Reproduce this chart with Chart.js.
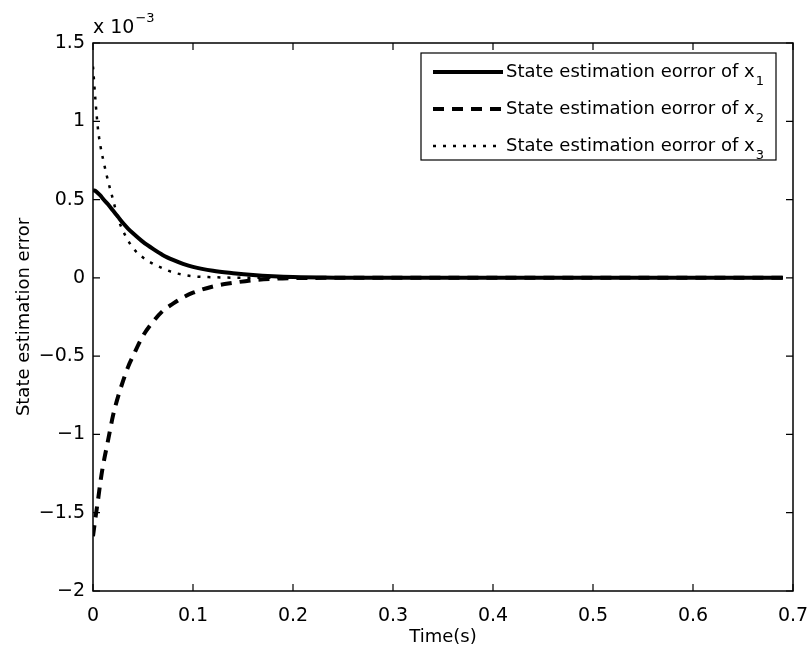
<!DOCTYPE html>
<html>
<head>
<meta charset="utf-8">
<script src="https://cdn.jsdelivr.net/npm/chart.js@4/dist/chart.umd.min.js"></script>
<style>
  html, body { margin: 0; padding: 0; background: #fff; }
  #wrap { width: 809px; height: 651px; }
</style>
</head>
<body>
<div id="wrap"><canvas id="chart1" width="809" height="651"></canvas></div>
<script>
// time (s) and errors in units of 1e-3
const times = [0, 0.0025, 0.005, 0.0075, 0.01, 0.015, 0.02, 0.025, 0.03, 0.035, 0.04, 0.05, 0.06, 0.07, 0.08, 0.09, 0.1, 0.12, 0.14, 0.16, 0.18, 0.2, 0.25, 0.3, 0.4, 0.5, 0.6, 0.69];
const errX1 = [0.56, 0.555, 0.54, 0.525, 0.505, 0.47, 0.43, 0.39, 0.35, 0.315, 0.285, 0.23, 0.185, 0.145, 0.115, 0.09, 0.07, 0.045, 0.03, 0.018, 0.01, 0.005, 0.001, 0, 0, 0, 0, 0];
const errX2 = [-1.65, -1.53, -1.42, -1.3, -1.2, -1.04, -0.88, -0.76, -0.66, -0.57, -0.5, -0.37, -0.28, -0.21, -0.165, -0.125, -0.095, -0.055, -0.032, -0.015, -0.006, -0.002, 0, 0, 0, 0, 0, 0];
const errX3 = [1.35, 1.13, 0.95, 0.84, 0.76, 0.62, 0.5, 0.38, 0.3, 0.24, 0.19, 0.13, 0.09, 0.06, 0.035, 0.02, 0.01, 0.004, 0.001, 0, 0, 0, 0, 0, 0, 0, 0, 0];
const seriesNames = ["State estimation eorror of x", "State estimation eorror of x", "State estimation eorror of x"];
const seriesSubs = ["1", "2", "3"];
const xTicks = [0, 0.1, 0.2, 0.3, 0.4, 0.5, 0.6, 0.7];
const yTicks = [-2, -1.5, -1, -0.5, 0, 0.5, 1, 1.5];

const FONT = "DejaVu Sans, Liberation Sans, Arial, sans-serif";

function pts(ys) { return times.map((t, i) => ({ x: t, y: ys[i] })); }

const frame = {
  id: "frame",
  afterDraw(chart) {
    const { ctx, chartArea: a, scales } = chart;
    ctx.save();
    ctx.strokeStyle = "#000";
    ctx.lineWidth = 1.5;
    ctx.strokeRect(a.left, a.top, a.right - a.left, a.bottom - a.top);
    ctx.lineWidth = 1.2;
    const tl = 7;
    xTicks.forEach(v => {
      const x = scales.x.getPixelForValue(v);
      ctx.beginPath();
      ctx.moveTo(x, a.bottom); ctx.lineTo(x, a.bottom - tl);
      ctx.moveTo(x, a.top); ctx.lineTo(x, a.top + tl);
      ctx.stroke();
    });
    yTicks.forEach(v => {
      const y = scales.y.getPixelForValue(v);
      ctx.beginPath();
      ctx.moveTo(a.left, y); ctx.lineTo(a.left + tl, y);
      ctx.moveTo(a.right, y); ctx.lineTo(a.right - tl, y);
      ctx.stroke();
    });

    // exponent label
    ctx.fillStyle = "#000";
    ctx.textBaseline = "alphabetic";
    ctx.textAlign = "left";
    ctx.font = "19px " + FONT;
    ctx.fillText("x 10", a.left, a.top - 10);
    const w = ctx.measureText("x 10").width;
    ctx.font = "13px " + FONT;
    ctx.fillText("\u22123", a.left + w + 1, a.top - 21);

    // legend
    const lx = 421, ly = 53, lw = 355, lh = 107;
    ctx.fillStyle = "#fff";
    ctx.fillRect(lx, ly, lw, lh);
    ctx.lineWidth = 1.2;
    ctx.strokeStyle = "#000";
    ctx.strokeRect(lx, ly, lw, lh);
    const rows = [72, 109, 146];
    chart.data.datasets.forEach((ds, i) => {
      const y = rows[i];
      ctx.beginPath();
      ctx.setLineDash(ds.borderDash || []);
      ctx.lineWidth = ds.borderWidth;
      ctx.strokeStyle = "#000";
      ctx.moveTo(433, y); ctx.lineTo(503, y);
      ctx.stroke();
      ctx.setLineDash([]);
      ctx.fillStyle = "#000";
      ctx.font = "18px " + FONT;
      ctx.textBaseline = "middle";
      ctx.fillText(seriesNames[i], 506, y);
      const tw = ctx.measureText(seriesNames[i]).width;
      ctx.font = "13px " + FONT;
      ctx.fillText(seriesSubs[i], 506 + tw + 1, y + 10);
    });
    ctx.restore();
  }
};

new Chart(document.getElementById("chart1"), {
  type: "line",
  data: {
    datasets: [
      { label: "x1", data: pts(errX1), borderColor: "#000", borderWidth: 4, pointRadius: 0, cubicInterpolationMode: "monotone" },
      { label: "x2", data: pts(errX2), borderColor: "#000", borderWidth: 4, borderDash: [11, 8], pointRadius: 0, cubicInterpolationMode: "monotone" },
      { label: "x3", data: pts(errX3), borderColor: "#000", borderWidth: 2.5, borderDash: [3, 7], pointRadius: 0, cubicInterpolationMode: "monotone" }
    ]
  },
  options: {
    responsive: false,
    animation: false,
    layout: { padding: { left: 0, right: 16, top: 43, bottom: 0 } },
    plugins: { legend: { display: false }, tooltip: { enabled: false } },
    scales: {
      x: {
        type: "linear", min: 0, max: 0.7,
        afterBuildTicks: s => { s.ticks = xTicks.map(v => ({ value: v })); },
        afterFit: s => { s.height = 60; s.paddingLeft = 0; s.paddingRight = 0; },
        grid: { display: false }, border: { display: false },
        ticks: { color: "#000", font: { family: FONT, size: 19 }, padding: 6, maxRotation: 0,
          callback: v => (v === 0 ? "0" : String(+v.toFixed(1))) },
        title: { display: true, text: "Time(s)", color: "#000", font: { family: FONT, size: 18 }, padding: { top: 0, bottom: 3 } }
      },
      y: {
        type: "linear", min: -2, max: 1.5,
        afterBuildTicks: s => { s.ticks = yTicks.map(v => ({ value: v })); },
        afterFit: s => { s.width = 93; s.paddingTop = 0; s.paddingBottom = 0; },
        grid: { display: false }, border: { display: false },
        ticks: { color: "#000", font: { family: FONT, size: 19 }, padding: 0,
          callback: v => (v < 0 ? "\u2212" + String(Math.abs(v)) : String(v)) },
        title: { display: true, text: "State estimation error", color: "#000", font: { family: FONT, size: 18 }, padding: { top: 14, bottom: 0 } }
      }
    }
  },
  plugins: [frame]
});
</script>
</body>
</html>
